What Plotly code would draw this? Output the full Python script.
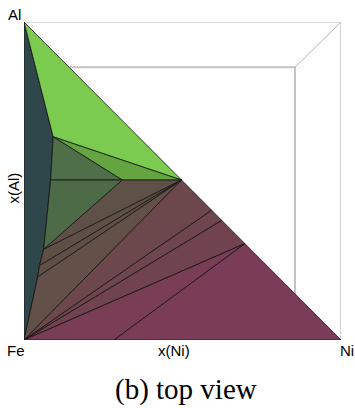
import plotly.graph_objects as go

# Vertices of the projected phase-diagram surface (composition coordinates)
vertex_names = ["Fe", "Ni", "Al", "A", "H", "D", "B", "E", "F", "G", "P1", "P2", "P3", "Q"]
x_ni = [0.000, 1.000, 0.000, 0.092, 0.084, 0.310, 0.497, 0.062, 0.049, 0.043, 0.592, 0.624, 0.697, 0.284]
x_al = [0.000, 0.000, 1.000, 0.639, 0.503, 0.503, 0.503, 0.285, 0.234, 0.198, 0.408, 0.376, 0.303, 0.000]

# Facets (vertex lists) and their shaded colours
facets = [
    ["Al", "A", "H", "E", "F", "G", "Fe"],
    ["Al", "B", "A"],
    ["A", "B", "D"],
    ["A", "D", "H"],
    ["H", "D", "E"],
    ["D", "B", "E"],
    ["E", "B", "F"],
    ["F", "B", "G"],
    ["G", "B", "Fe"],
    ["Fe", "B", "P1"],
    ["Fe", "P1", "P2"],
    ["Fe", "P2", "P3"],
    ["Fe", "P3", "Q"],
    ["Q", "P3", "Ni"],
]
facet_colors = [
    "#2f464a",
    "#7bcb50",
    "#64a540",
    "#4f6f48",
    "#4d6b47",
    "#5e5147",
    "#5f5047",
    "#604f48",
    "#625049",
    "#6c474c",
    "#6f454e",
    "#71434f",
    "#793d55",
    "#7a3c56",
]

# Bounding box (perspective cube seen from above)
outer_box_x = [0, 1, 1]
outer_box_y = [1, 1, 0]
inner_box_x = [0.145, 0.855, 0.855]
inner_box_y = [0.858, 0.858, 0.142]
diag_x = [0.855, 1.0]
diag_y = [0.858, 1.0]

# Corner / axis labels: text, x, y (paper), angle
label_texts = ["Al", "Fe", "Ni", "x(Ni)", "x(Al)"]
label_x = [-0.031, -0.024, 1.019, 0.472, -0.030]
label_y = [1.024, -0.032, -0.032, -0.032, 0.478]
label_angle = [0, 0, 0, 0, -90]
caption = "(b) top view"

pos = {n: (x, y) for n, x, y in zip(vertex_names, x_ni, x_al)}

fig = go.Figure()

fig.add_trace(go.Scatter(x=inner_box_x, y=inner_box_y, mode="lines",
                         line=dict(color="#c4c4c4", width=2), hoverinfo="skip"))
fig.add_trace(go.Scatter(x=diag_x, y=diag_y, mode="lines",
                         line=dict(color="#b4b4b4", width=1), hoverinfo="skip"))
fig.add_trace(go.Scatter(x=outer_box_x, y=outer_box_y, mode="lines",
                         line=dict(color="#b4b4b4", width=1.2), hoverinfo="skip"))

for verts, col in zip(facets, facet_colors):
    xs = [pos[v][0] for v in verts] + [pos[verts[0]][0]]
    ys = [pos[v][1] for v in verts] + [pos[verts[0]][1]]
    fig.add_trace(go.Scatter(x=xs, y=ys, mode="lines", fill="toself",
                             fillcolor=col, line=dict(color="#111111", width=0.8),
                             hoverinfo="skip"))

label_font = dict(family="Liberation Sans, Arial, sans-serif", size=15, color="black")
for text, lx, ly, ang in zip(label_texts, label_x, label_y, label_angle):
    fig.add_annotation(x=lx, y=ly, xref="paper", yref="paper", text=text, showarrow=False,
                       textangle=ang, font=label_font, xanchor="center", yanchor="middle")

fig.add_annotation(x=0.5126, y=-0.155, xref="paper", yref="paper", text=caption,
                   showarrow=False, xanchor="center", yanchor="middle",
                   font=dict(family="Liberation Serif, serif", size=29, color="black"))

fig.update_layout(
    width=355, height=408,
    margin=dict(l=24, r=14, t=22, b=68, pad=0),
    paper_bgcolor="white", plot_bgcolor="white",
    showlegend=False,
    xaxis=dict(range=[0, 1], visible=False, fixedrange=True),
    yaxis=dict(range=[0, 1], visible=False, fixedrange=True),
)

fig.write_html("out.html")
